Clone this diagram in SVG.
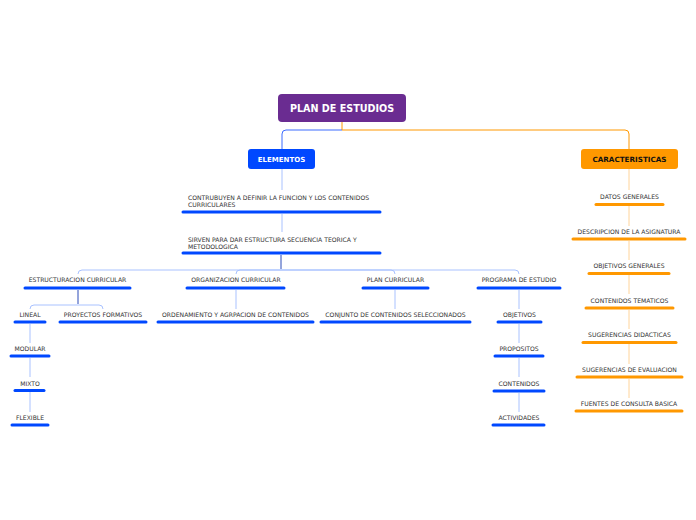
<svg xmlns="http://www.w3.org/2000/svg" width="696" height="520" viewBox="0 0 696 520">
<style>
text{font-family:"DejaVu Sans","Verdana",sans-serif;fill:#333;font-size:6.1px}
.c{text-anchor:middle}
.ub{stroke:#0048ff;stroke-width:3;stroke-linecap:round;fill:none}
.uo{stroke:#ff9800;stroke-width:3;stroke-linecap:round;fill:none}
.lb{stroke:#a9c2ff;stroke-width:1;fill:none}
.db{stroke:#2a4bb8;stroke-width:1;fill:none}
.lo{stroke:#ffd49a;stroke-width:1;fill:none}
.t{font-weight:bold;text-anchor:middle}
</style>
<rect width="696" height="520" fill="#fff"/>
<g id="connectors">
<path d="M342 122 V130" stroke="#ff9800" fill="none"/>
<path d="M342 130 H286 Q282 130 282 134 V149" stroke="#3d6cff" fill="none"/>
<path d="M342 130 H625 Q629 130 629 134 V149" stroke="#ff9800" fill="none"/>
<path class="lb" d="M282 169 V190"/>
<path class="lb" d="M282 214 V232"/>
<path class="db" d="M281 255 V269"/>
<path class="lb" d="M281 270 H82 Q78 270 78 274"/>
<path class="lb" d="M281 270 H240 Q236 270 236 274"/>
<path class="lb" d="M281 270 H391 Q395 270 395 274"/>
<path class="lb" d="M281 270 H515 Q519 270 519 274"/>
<path class="db" d="M78 290 V304"/>
<path class="lb" d="M78 305 H34 Q30 305 30 309"/>
<path class="lb" d="M78 305 H99 Q103 305 103 309"/>
<path class="lb" d="M236 290 V309"/>
<path class="lb" d="M395 290 V309"/>
<path class="lb" d="M519 290 V309"/>
<path class="lb" d="M30 324 V343"/>
<path class="lb" d="M30 358 V377"/>
<path class="lb" d="M30 392 V412"/>
<path class="lb" d="M519 324 V343"/>
<path class="lb" d="M519 358 V377"/>
<path class="lb" d="M519 393 V412"/>
<path class="lo" d="M629 169 V190"/>
<path class="lo" d="M629 206 V226"/>
<path class="lo" d="M629 241 V260"/>
<path class="lo" d="M629 275 V294"/>
<path class="lo" d="M629 310 V329"/>
<path class="lo" d="M629 344 V364"/>
<path class="lo" d="M629 379 V398"/>
</g>
<g id="root">
<rect x="278" y="94" width="128" height="28" rx="4" fill="#6a2c91"/>
<text x="342" y="111.5" class="t" style="fill:#fff;font-size:9.6px">PLAN DE ESTUDIOS</text>
</g>
<g id="elementos">
<rect x="248" y="149" width="67" height="20" rx="3" fill="#0048ff"/>
<text x="281.5" y="161.5" class="t" style="fill:#fff;font-size:7px">ELEMENTOS</text>
</g>
<g id="caracteristicas">
<rect x="581" y="149" width="97" height="20" rx="3" fill="#ff9800"/>
<text x="629.5" y="161.5" class="t" style="fill:#111;font-size:7.2px">CARACTERISTICAS</text>
</g>
<g id="contribuyen">
<text x="188" y="199.5">CONTRUBUYEN A DEFINIR LA FUNCION Y LOS CONTENIDOS</text>
<text x="188" y="206.5">CURRICULARES</text>
<path class="ub" d="M183 212 H380"/>
</g>
<g id="sirven">
<text x="188" y="241.5">SIRVEN PARA DAR ESTRUCTURA SECUENCIA TEORICA Y</text>
<text x="188" y="248.5">METODOLOGICA</text>
<path class="ub" d="M183 253 H380"/>
</g>
<g id="estructuracion">
<text x="77.5" y="282" class="c">ESTRUCTURACION CURRICULAR</text>
<path class="ub" d="M25 288 H130"/>
</g>
<g id="organizacion">
<text x="236" y="282" class="c">ORGANIZACION CURRICULAR</text>
<path class="ub" d="M187 288 H284"/>
</g>
<g id="plan-curricular">
<text x="395.5" y="282" class="c">PLAN CURRICULAR</text>
<path class="ub" d="M363 288 H428"/>
</g>
<g id="programa">
<text x="519" y="282" class="c">PROGRAMA DE ESTUDIO</text>
<path class="ub" d="M478 288 H560"/>
</g>
<g id="lineal">
<text x="30" y="317" class="c">LINEAL</text>
<path class="ub" d="M15 322 H45"/>
</g>
<g id="proyectos">
<text x="103" y="317" class="c">PROYECTOS FORMATIVOS</text>
<path class="ub" d="M60 322 H146"/>
</g>
<g id="ordenamiento">
<text x="235.5" y="317" class="c">ORDENAMIENTO Y AGRPACION DE CONTENIDOS</text>
<path class="ub" d="M158 322 H313"/>
</g>
<g id="conjunto">
<text x="395.5" y="317" class="c">CONJUNTO DE CONTENIDOS SELECCIONADOS</text>
<path class="ub" d="M321 322 H470"/>
</g>
<g id="objetivos">
<text x="519.5" y="317" class="c">OBJETIVOS</text>
<path class="ub" d="M498 322 H541"/>
</g>
<g id="modular">
<text x="30" y="351" class="c">MODULAR</text>
<path class="ub" d="M11 356 H49"/>
</g>
<g id="mixto">
<text x="30" y="385.5" class="c">MIXTO</text>
<path class="ub" d="M15 390.5 H44"/>
</g>
<g id="flexible">
<text x="30" y="420" class="c">FLEXIBLE</text>
<path class="ub" d="M12 425 H48"/>
</g>
<g id="propositos">
<text x="519" y="351" class="c">PROPOSITOS</text>
<path class="ub" d="M495 356 H543"/>
</g>
<g id="contenidos">
<text x="519" y="386" class="c">CONTENIDOS</text>
<path class="ub" d="M494 391 H544"/>
</g>
<g id="actividades">
<text x="519" y="420" class="c">ACTIVIDADES</text>
<path class="ub" d="M493 425 H544"/>
</g>
<g id="datos">
<text x="629.5" y="199" class="c">DATOS GENERALES</text>
<path class="uo" d="M596 204.5 H663"/>
</g>
<g id="descripcion">
<text x="629" y="234" class="c">DESCRIPCION DE LA ASIGNATURA</text>
<path class="uo" d="M573 239 H685"/>
</g>
<g id="objetivos-generales">
<text x="629" y="268" class="c">OBJETIVOS GENERALES</text>
<path class="uo" d="M589 273.5 H669"/>
</g>
<g id="contenidos-tematicos">
<text x="629.5" y="303" class="c">CONTENIDOS TEMATICOS</text>
<path class="uo" d="M586 308 H673"/>
</g>
<g id="sugerencias-didacticas">
<text x="629.5" y="337" class="c">SUGERENCIAS DIDACTICAS</text>
<path class="uo" d="M583 342.5 H676"/>
</g>
<g id="sugerencias-evaluacion">
<text x="629.5" y="372" class="c">SUGERENCIAS DE EVALUACION</text>
<path class="uo" d="M577 377 H682"/>
</g>
<g id="fuentes">
<text x="629" y="406" class="c">FUENTES DE CONSULTA BASICA</text>
<path class="uo" d="M576 411 H682"/>
</g>
</svg>
